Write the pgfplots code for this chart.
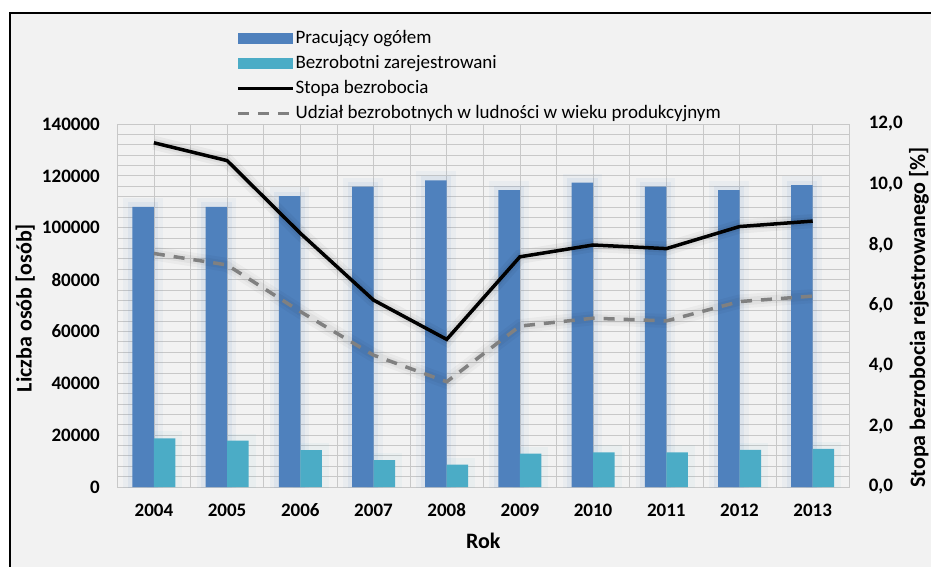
\documentclass[border=0pt]{standalone}
\usepackage{pgfplots}
\usepackage{pgfplotstable}
\pgfplotsset{compat=1.18}
\usepackage{fontspec}
\setmainfont{Carlito}
\definecolor{barblue}{HTML}{4F81BD}
\definecolor{barcyan}{HTML}{4BACC6}
\definecolor{bg}{HTML}{F2F2F2}
\definecolor{gridc}{HTML}{C8C8C8}
\definecolor{dashgray}{HTML}{808080}
\newcommand\labelfont{\fontsize{22}{26}\selectfont\bfseries}
\pgfplotstableread{
x pracujacy bezrobotni
0 108000 18800
1 108000 17900
2 112200 14200
3 115800 10400
4 118300 8600
5 114500 12900
6 117400 13400
7 115800 13400
8 114500 14300
9 116400 14700
}\bars
\pgfplotstableread{
x stopa udzial
0 11.38 7.72
1 10.79 7.34
2 8.39 5.80
3 6.18 4.36
4 4.88 3.48
5 7.61 5.32
6 8.00 5.58
7 7.88 5.49
8 8.61 6.13
9 8.79 6.31
}\lines
\begin{document}
\fontsize{19}{23}\selectfont
\begin{tikzpicture}[x=1pt,y=1pt]
\useasboundingbox (0,0) rectangle (931,566);
\fill[white] (0,0) rectangle (931,566);
\fill[bg] (9.5,-20) rectangle (960,553);
\draw[black, line width=2pt] (9.5,-20) -- (9.5,553) -- (960,553);
\pgfplotsset{every axis/.append style={scale only axis, width=732pt, height=363pt,
  at={(117.3pt,79pt)}, anchor=south west, xmin=-0.5, xmax=9.5,
  major tick length=0pt, minor tick length=0pt,
  ticklabel style={font=\bfseries},
  /pgf/number format/assume math mode=true}}
\begin{axis}[
  ymin=0, ymax=140000,
  ytick={0,20000,...,140000},
  scaled y ticks=false,
  minor y tick num=4,
  xtick={0,...,9},
  xticklabels={2004,2005,2006,2007,2008,2009,2010,2011,2012,2013},
  minor x tick num=1,
  grid=both,
  major grid style={gridc, line width=0.8pt},
  minor grid style={gridc, line width=0.8pt},
  axis line style={gridc, line width=0.8pt},
  axis background/.style={fill=bg},
  yticklabel style={xshift=-11pt, /pgf/number format/fixed, /pgf/number format/precision=0, /pgf/number format/1000 sep={}},
  xticklabel style={yshift=-11pt, text height=12pt, text depth=0pt},
  ylabel={\labelfont Liczba osób [osób]},
  xlabel={\labelfont Rok},
  every axis y label/.style={at={(rel axis cs:0,0.5)}, xshift=-92pt, yshift=-2.5pt, rotate=90, anchor=center},
  every axis x label/.style={at={(rel axis cs:0.5,0)}, yshift=-53.5pt, anchor=center},
  legend style={at={(0.162,1.262)}, anchor=north west, draw=none, fill=none, inner sep=0pt,
    row sep=6pt, nodes={inner sep=1pt, text height=13pt, text depth=4pt}},
  legend cell align=left,
]
% soft glow behind the bars
\addplot[ybar, bar width=21.5pt, bar shift=-10.75pt, fill=none, draw=barblue, line width=18pt, opacity=0.05, forget plot] table[x=x, y=pracujacy] {\bars};
\addplot[ybar, bar width=21.5pt, bar shift=-10.75pt, fill=none, draw=barblue, line width=9pt, opacity=0.08, forget plot] table[x=x, y=pracujacy] {\bars};
\addplot[ybar, bar width=21.5pt, bar shift=10.75pt, fill=none, draw=barcyan, line width=14pt, opacity=0.05, forget plot] table[x=x, y=bezrobotni] {\bars};
\addplot[ybar, bar width=21.5pt, bar shift=-10.75pt, fill=barblue, draw=none,
  legend image code/.code={\fill[barblue] (0pt,-5.7pt) rectangle (55pt,5.7pt);}]
  table[x=x, y=pracujacy] {\bars};
\addlegendentry{Pracujący ogółem}
\addplot[ybar, bar width=21.5pt, bar shift=10.75pt, fill=barcyan, draw=none,
  legend image code/.code={\fill[barcyan] (0pt,-5.7pt) rectangle (55pt,5.7pt);}]
  table[x=x, y=bezrobotni] {\bars};
\addlegendentry{Bezrobotni zarejestrowani}
\addlegendimage{legend image code/.code={\draw[black, line width=3.5pt] (0pt,0pt) -- (55pt,0pt);}}
\addlegendentry{Stopa bezrobocia}
\addlegendimage{legend image code/.code={\draw[dashgray, line width=3.5pt, dash pattern=on 11pt off 9pt] (0pt,0pt) -- (55pt,0pt);}}
\addlegendentry{Udział bezrobotnych w ludności w wieku produkcyjnym}
\end{axis}
\begin{axis}[
  ymin=0, ymax=12,
  ytick={0,2,...,12},
  axis y line*=right,
  hide x axis,
  axis line style={draw=none},
  /pgf/number format/.cd, fixed, fixed zerofill, precision=1, use comma,
  /pgfplots/.cd,
  yticklabel style={xshift=13pt},
  ylabel={\labelfont Stopa bezrobocia rejestrowanego [\%]},
  every axis y label/.style={at={(rel axis cs:1,0.5)}, xshift=75.7pt, yshift=-12pt, rotate=90, anchor=base},
]
\addplot[dashgray, line width=3.5pt, dash pattern=on 11pt off 9pt, mark=none,
  preaction={draw=black, solid, line width=14pt, opacity=0.03},
  preaction={draw=black, solid, line width=8pt, opacity=0.04}]
  table[x=x, y=udzial] {\lines};
\addplot[black, line width=3.5pt, mark=none,
  preaction={draw=black, line width=14pt, opacity=0.04},
  preaction={draw=black, line width=8pt, opacity=0.05}]
  table[x=x, y=stopa] {\lines};
\end{axis}
\end{tikzpicture}
\end{document}
